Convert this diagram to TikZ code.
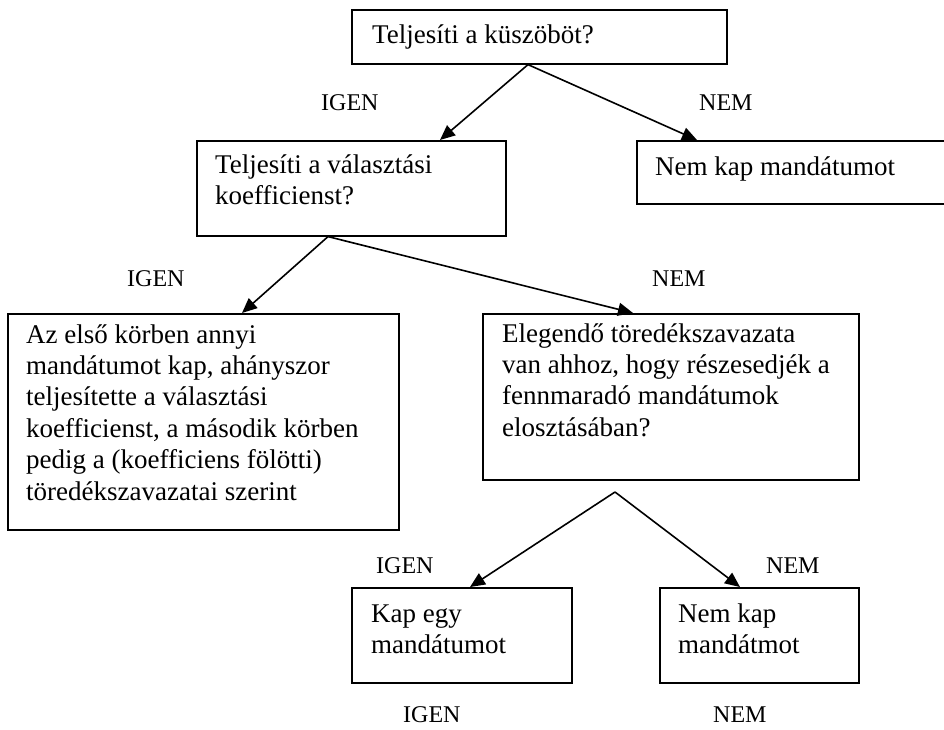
\documentclass[tikz,border=0pt]{standalone}
\usepackage{fontspec}
\setmainfont{Liberation Serif}
\usetikzlibrary{arrows.meta}
\newcommand\btxt[1]{\parbox[t]{420pt}{\fontsize{27}{31.4}\selectfont\raggedright #1}}
\begin{document}
\begin{tikzpicture}[x=1pt,y=-1pt,
  box/.style={draw, line width=1.6pt, inner sep=0pt, anchor=north west},
  txt/.style={anchor=base west, inner sep=0pt},
  lbl/.style={anchor=base west, inner sep=0pt, font=\fontsize{24}{28}\selectfont},
  arr/.style={line width=1.6pt, -{Triangle[length=15pt,width=13pt]}}]
\useasboundingbox (0,0) rectangle (944,729);
\fill[white] (0,0) rectangle (944,729);
\clip (0,0) rectangle (944,729);
% boxes
\node[box, minimum width=375pt, minimum height=54pt] (b1) at (351,9) {};
\node[box, minimum width=309pt, minimum height=95pt] (b2) at (196,140) {};
\node[box, minimum width=314pt, minimum height=63pt] (b3) at (636,140) {};
\node[box, minimum width=391pt, minimum height=216pt] (b4) at (7,313) {};
\node[box, minimum width=376pt, minimum height=166pt] (b5) at (482,313) {};
\node[box, minimum width=220pt, minimum height=95pt] (b6) at (351,587) {};
\node[box, minimum width=199pt, minimum height=95pt] (b7) at (659,587) {};
% texts
\node[txt] (t1) at (372,43) {\btxt{Teljesíti a küszöböt?}};
\node[txt] (t2) at (215,173) {\btxt{Teljesíti a választási\\koefficienst?}};
\node[txt] (t3) at (655,175) {\btxt{Nem kap mandátumot}};
\node[txt] (t4) at (26,343) {\btxt{Az első körben annyi\\mandátumot kap, ahányszor\\teljesítette a választási\\koefficienst, a második körben\\pedig a (koefficiens fölötti)\\töredékszavazatai szerint}};
\node[txt] (t5) at (502,342) {\btxt{Elegendő töredékszavazata\\van ahhoz, hogy részesedjék a\\fennmaradó mandátumok\\elosztásában?}};
\node[txt] (t6) at (371,622) {\btxt{Kap egy\\mandátumot}};
\node[txt] (t7) at (678,622) {\btxt{Nem kap\\mandátmot}};
% labels
\node[lbl] (l1) at (321,110) {IGEN};
\node[lbl] (l2) at (699,110) {NEM};
\node[lbl] (l3) at (127,286) {IGEN};
\node[lbl] (l4) at (652,286) {NEM};
\node[lbl] (l5) at (376,573) {IGEN};
\node[lbl] (l6) at (766,573) {NEM};
\node[lbl] (l7) at (403,722) {IGEN};
\node[lbl] (l8) at (713,722) {NEM};
% connectors
\draw[arr] ([xshift=177pt]b1.south west) -- ([xshift=244pt]b2.north west);
\draw[arr] ([xshift=177pt]b1.south west) -- ([xshift=61pt]b3.north west);
\draw[arr] ([xshift=132pt]b2.south west) -- ([xshift=235pt]b4.north west);
\draw[arr] ([xshift=132pt]b2.south west) -- ([xshift=151pt]b5.north west);
\coordinate (apex) at (615,492);
\draw[arr] (apex) -- ([xshift=119pt]b6.north west);
\draw[arr] (apex) -- ([xshift=81pt]b7.north west);
\end{tikzpicture}
\end{document}
